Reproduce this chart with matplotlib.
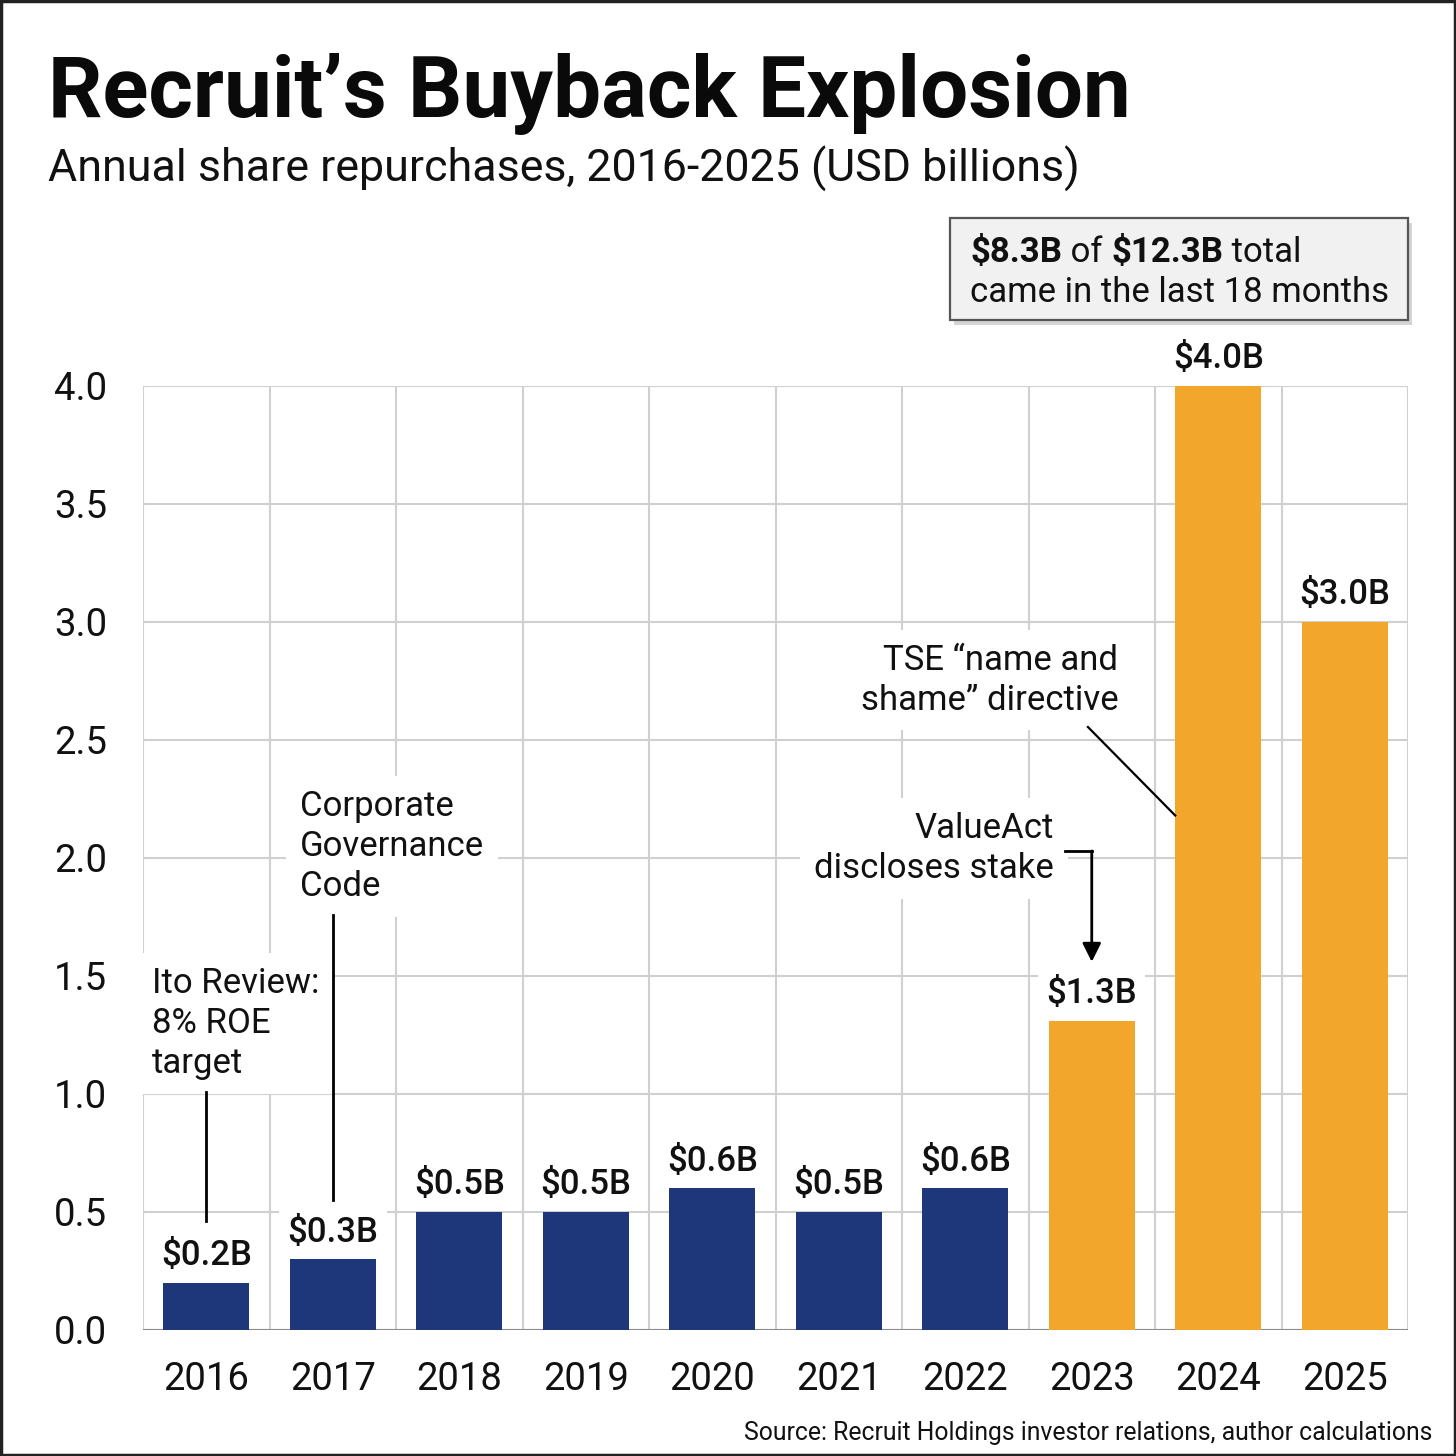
import matplotlib
matplotlib.use("Agg")
import matplotlib.pyplot as plt
from matplotlib.patches import Rectangle
import numpy as np

years = ["2016", "2017", "2018", "2019", "2020", "2021", "2022", "2023", "2024", "2025"]
values = [0.2, 0.3, 0.5, 0.5, 0.6, 0.5, 0.6, 1.31, 4.0, 3.0]
value_labels = ["$0.2B", "$0.3B", "$0.5B", "$0.5B", "$0.6B", "$0.5B", "$0.6B", "$1.3B", "$4.0B", "$3.0B"]
highlight = [False] * 7 + [True] * 3
y_ticks = [0.0, 0.5, 1.0, 1.5, 2.0, 2.5, 3.0, 3.5, 4.0]

NAVY = "#1d377a"
ORANGE = "#f2a62b"
GRID = "#d0d0d0"

plt.rcParams['font.family'] = ['Roboto', 'DejaVu Sans']

fig = plt.figure(figsize=(14.56, 14.56), dpi=100)
fig.patch.set_facecolor("white")
ax = fig.add_axes([143/1456, 126/1456, (1408-143)/1456, (1330-386)/1456])

x = np.arange(len(years))
colors = [ORANGE if h else NAVY for h in highlight]
bars = ax.bar(x, values, width=0.68, color=colors, zorder=2)

ax.set_xlim(-0.5, len(years) - 0.5)
ax.set_ylim(0, 4.0)
ax.set_yticks(y_ticks)
ax.set_yticklabels([f"{t:.1f}" for t in y_ticks], fontsize=27.5, color="#111111")
ax.set_xticks(x)
ax.set_xticklabels(years, fontsize=27.5, color="#111111")
ax.set_xticks(np.arange(-0.5, len(years), 1.0), minor=True)
ax.tick_params(axis='x', which='both', length=0, pad=22)
ax.tick_params(axis='y', which='both', length=0, pad=26)
ax.grid(axis='y', which='major', color=GRID, lw=1.5, zorder=0)
ax.grid(axis='x', which='minor', color=GRID, lw=1.5, zorder=0)
ax.grid(axis='x', which='major', visible=False)
ax.set_axisbelow(True)
for s in ax.spines.values():
    s.set_visible(False)
ax.axhline(0, color="#8a8a8a", lw=2.2, zorder=1)

# value labels
for xi, v, lab in zip(x, values, value_labels):
    ax.annotate(lab, xy=(xi, v), xytext=(0, 27), textcoords='offset pixels',
                ha='center', va='center', fontsize=25, fontweight='medium', color="#111111",
                bbox=dict(facecolor='white', edgecolor='none', pad=6), zorder=4,
                annotation_clip=False)

wbox = dict(facecolor='white', edgecolor='none', pad=10)
ann_kw = dict(fontsize=25, linespacing=1.27, color="#111111", bbox=wbox, zorder=3)

# Ito Review
ax.text(-0.43, 1.297, "Ito Review:\n8% ROE\ntarget", ha='left', va='center', **ann_kw)
ax.plot([0, 0], [1.01, 0.46], color='black', lw=2, zorder=3)

# Corporate Governance Code
ax.text(0.74, 2.047, "Corporate\nGovernance\nCode", ha='left', va='center', **ann_kw)
ax.plot([1, 1], [1.76, 0.55], color='black', lw=2, zorder=3)

# ValueAct
ax.text(6.70, 2.04, "ValueAct\ndiscloses stake", ha='right', va='center', **ann_kw)
ax.plot([6.79, 7.0], [2.03, 2.03], color='black', lw=2, zorder=3)
ax.annotate('', xy=(7.0, 1.56), xytext=(7.0, 2.03),
            arrowprops=dict(arrowstyle='-|>', color='black', lw=2, mutation_scale=28,
                            shrinkA=0, shrinkB=0), zorder=3)

# TSE
ax.text(7.21, 2.754, "TSE \u201cname and\nshame\u201d directive", ha='right', va='center', **ann_kw)
ax.plot([6.97, 7.66], [2.555, 2.18], color='black', lw=1.6, zorder=3)

# Titles
fig.text(48/1456, 1 - 117/1456, "Recruit\u2019s Buyback Explosion", fontsize=61.4, fontweight='bold',
         ha='left', va='baseline', color="#0a0a0a")
fig.text(48/1456, 1 - 182/1456, "Annual share repurchases, 2016-2025 (USD billions)", fontsize=32.2,
         ha='left', va='baseline', color="#111111")

# Callout box
sx0, sy0, sx1, sy1 = 950/1456, 1 - 320/1456, 1408/1456, 1 - 218/1456
fig.patches.append(Rectangle((sx0 + 4/1456, sy0 - 5/1456), sx1 - sx0, sy1 - sy0,
                             transform=fig.transFigure, facecolor="#b8b8b8", edgecolor='none',
                             alpha=0.6, zorder=1))
fig.patches.append(Rectangle((sx0, sy0), sx1 - sx0, sy1 - sy0, transform=fig.transFigure,
                             facecolor="#f1f1f1", edgecolor="#555555", lw=1.6, zorder=2))
BOX_FS = 25
t1 = fig.text(970/1456, 1 - 262/1456, "$8.3B", fontsize=BOX_FS, fontweight='bold', ha='left',
              va='baseline', color="#111111", zorder=3)
t2 = fig.text(0, 0, " of ", fontsize=BOX_FS, ha='left', va='baseline', color="#111111", zorder=3)
t3 = fig.text(0, 0, "$12.3B", fontsize=BOX_FS, fontweight='bold', ha='left', va='baseline',
              color="#111111", zorder=3)
t4 = fig.text(0, 0, " total", fontsize=BOX_FS, ha='left', va='baseline', color="#111111", zorder=3)
fig.text(970/1456, 1 - 302/1456, "came in the last 18 months", fontsize=BOX_FS, ha='left',
         va='baseline', color="#111111", zorder=3)

fig.canvas.draw()
r = fig.canvas.get_renderer()
prev = t1
for t in (t2, t3, t4):
    bb = prev.get_window_extent(r)
    x_fig = bb.x1 / fig.bbox.width
    t.set_position((x_fig, 1 - 262/1456))
    fig.canvas.draw()
    prev = t

# Source
fig.text(1432/1456, 1 - 1440/1456, "Source: Recruit Holdings investor relations, author calculations",
         fontsize=17.8, ha='right', va='baseline', color="#111111")

# figure border
fig.patches.append(Rectangle((0.001, 0.001), 0.998, 0.998, transform=fig.transFigure,
                             facecolor='none', edgecolor='#222222', lw=2.5, zorder=10))

fig.savefig("out.png", dpi=100, facecolor='white')
